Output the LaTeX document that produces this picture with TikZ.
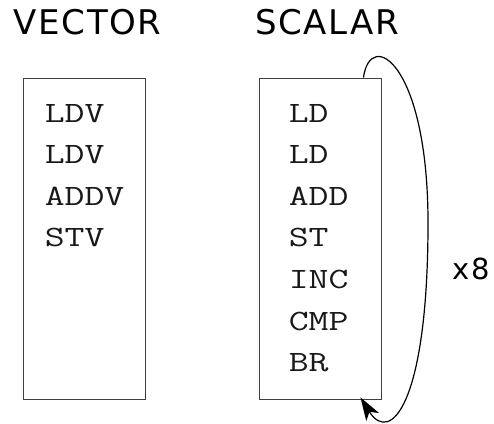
\documentclass[tikz,border=0pt]{standalone}
\usepackage{fontspec}
\usepackage{tikz}
\usetikzlibrary{arrows.meta,positioning}
\newfontfamily\titlefont[LetterSpace=5]{DejaVu Sans}
\newfontfamily\codefont[FakeStretch=1.31]{Latin Modern Mono}
\tikzset{
  listbox/.style={draw=black!75, line width=0.9pt, minimum width=122pt, minimum height=321pt, inner sep=0pt},
  title/.style={font=\titlefont\fontsize{34}{40}\selectfont, inner sep=0pt, anchor=base},
  op/.style={font=\codefont\fontsize{29.5}{36}\selectfont, inner sep=0pt, anchor=base west, text=black!90},
  loopback/.style={-{Stealth[length=23pt,width=15pt,inset=6pt]}, line width=1.2pt}
}

\begin{document}
\begin{tikzpicture}[x=1pt, y=1pt]
\useasboundingbox (0,0) rectangle (494,423);
% the two instruction streams
\node[listbox] (vbox) at (84,184.5) {};
\node[listbox] (sbox) at (320,184.5) {};
\node[title] (vtitle) at (87.5,388) {VECTOR};
\node[title] (stitle) at (327,388) {SCALAR};
\foreach \op [count=\i] in {LDV,LDV,ADDV,STV}
  \node[op] (v\i) at ([xshift=22pt, yshift={-44.5pt-41.6pt*(\i-1)}]vbox.north west) {\op};
\foreach \op [count=\i] in {LD,LD,ADD,ST,INC,CMP,BR}
  \node[op] (s\i) at ([xshift=30pt, yshift={-44.5pt-41.6pt*(\i-1)}]sbox.north west) {\op};
% loop back over the scalar body
\coordinate (loopout) at ([xshift=-18pt]sbox.north east);
\coordinate (loopin) at ([xshift=-21pt, yshift=2pt]sbox.south east);
\draw[loopback] (loopout) .. controls +(7,50) and +(0,160) .. (428,200)
  .. controls +(0,-180) and +(30,-48) .. (loopin);
\node[font=\titlefont\fontsize{29}{34}\selectfont, inner sep=0pt, anchor=base] (times) at (471,144) {x8};
\end{tikzpicture}
\end{document}
